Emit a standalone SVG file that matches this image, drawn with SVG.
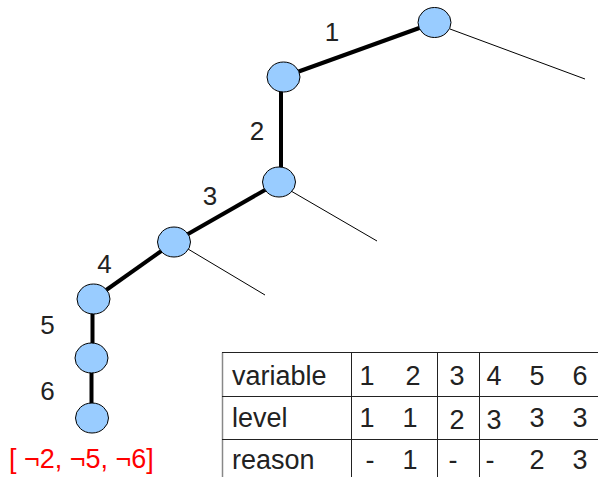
<svg xmlns="http://www.w3.org/2000/svg" width="598" height="477" viewBox="0 0 598 477">
<style>
.node{fill:#99ccff;stroke:#000;stroke-width:1}
.thick{stroke:#000;stroke-width:4;fill:none}
.thin{stroke:#000;stroke-width:1;fill:none}
.lbl{font-family:"Liberation Sans",Arial,sans-serif;font-size:26px;fill:#222;text-anchor:middle}
.cell{font-family:"Liberation Sans",Arial,sans-serif;font-size:27px;fill:#222}
.num{text-anchor:middle}
.grid{stroke:#222;stroke-width:1;fill:none}
</style>
<rect width="598" height="477" fill="#fff"/>
<g id="connectors">
<line class="thick" x1="434.5" y1="22.5" x2="283.5" y2="77"/>
<line class="thick" x1="281" y1="77" x2="281" y2="182"/>
<line class="thick" x1="279" y1="182" x2="174" y2="242"/>
<line class="thick" x1="174" y1="242" x2="93.5" y2="299"/>
<line class="thick" x1="92.5" y1="299" x2="92.5" y2="358"/>
<line class="thick" x1="91.5" y1="358" x2="91.5" y2="418"/>
<line class="thin" x1="450" y1="29" x2="585" y2="79"/>
<line class="thin" x1="291" y1="191" x2="377" y2="241"/>
<line class="thin" x1="188" y1="249" x2="265" y2="295"/>
</g>
<g id="nA"><ellipse class="node" cx="434.5" cy="22.5" rx="16.5" ry="15"/></g>
<g id="nB"><ellipse class="node" cx="283.5" cy="77" rx="16.5" ry="15"/></g>
<g id="nC"><ellipse class="node" cx="279" cy="182" rx="16.5" ry="15"/></g>
<g id="nD"><ellipse class="node" cx="174" cy="242" rx="16.5" ry="15"/></g>
<g id="nE"><ellipse class="node" cx="93.5" cy="299" rx="16.5" ry="15"/></g>
<g id="nF"><ellipse class="node" cx="91.5" cy="358" rx="16.5" ry="15"/></g>
<g id="nG"><ellipse class="node" cx="92" cy="418" rx="16.5" ry="15"/></g>
<g id="labels">
<text class="lbl" x="332" y="41">1</text>
<text class="lbl" x="257" y="140">2</text>
<text class="lbl" x="210" y="205">3</text>
<text class="lbl" x="104.5" y="273">4</text>
<text class="lbl" x="47.5" y="334">5</text>
<text class="lbl" x="47.5" y="400">6</text>
</g>
<g id="clause">
<text x="9" y="468" font-family="'Liberation Sans',Arial,sans-serif" font-size="27" fill="#ff0000">[ ¬2, ¬5, ¬6]</text>
</g>
<g id="table">
<line x1="222.5" y1="352.5" x2="222.5" y2="477" stroke="#888" stroke-width="1.5"/>
<line class="grid" x1="222" y1="352.5" x2="598" y2="352.5"/>
<line class="grid" x1="222" y1="396.5" x2="598" y2="396.5"/>
<line class="grid" x1="222" y1="439.5" x2="598" y2="439.5"/>
<line class="grid" x1="351.5" y1="352" x2="351.5" y2="477"/>
<line class="grid" x1="437.5" y1="352" x2="437.5" y2="477"/>
<line class="grid" x1="479.5" y1="352" x2="479.5" y2="477"/>
<text class="cell" x="232" y="385">variable</text>
<text class="cell" x="232" y="427">level</text>
<text class="cell" x="232" y="469">reason</text>
<text class="cell num" x="367" y="385">1</text>
<text class="cell num" x="413" y="385">2</text>
<text class="cell num" x="457" y="385">3</text>
<text class="cell num" x="494" y="385">4</text>
<text class="cell num" x="537" y="385">5</text>
<text class="cell num" x="580" y="385">6</text>
<text class="cell num" x="367" y="427">1</text>
<text class="cell num" x="410" y="427">1</text>
<text class="cell num" x="457" y="429">2</text>
<text class="cell num" x="494" y="429">3</text>
<text class="cell num" x="537" y="427">3</text>
<text class="cell num" x="580" y="427">3</text>
<text class="cell num" x="370" y="469">-</text>
<text class="cell num" x="410" y="469">1</text>
<text class="cell num" x="453" y="469">-</text>
<text class="cell num" x="490" y="469">-</text>
<text class="cell num" x="537" y="469">2</text>
<text class="cell num" x="580" y="469">3</text>
</g>
</svg>
